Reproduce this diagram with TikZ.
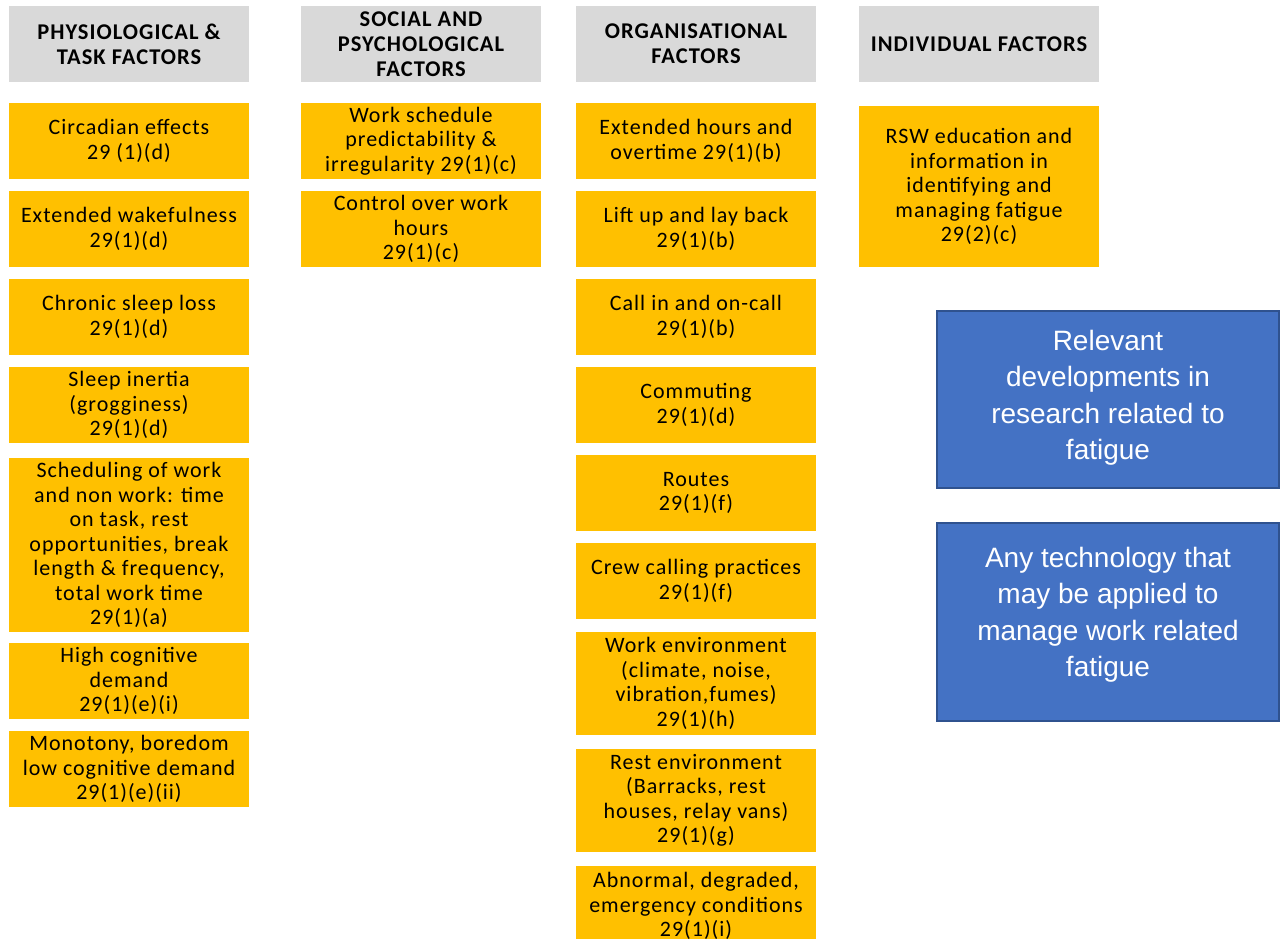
\documentclass[tikz,border=0pt]{standalone}
\usepackage{fontspec}
\setmainfont[LetterSpace=4.5]{Carlito}
\newfontfamily\arialf{Liberation Sans}
\definecolor{ora}{HTML}{FFC000}
\definecolor{hdr}{HTML}{D9D9D9}
\definecolor{blu}{HTML}{4472C4}
\definecolor{bluedge}{HTML}{2F528F}
\tikzset{
  basebox/.style={minimum width=240pt, inner sep=0pt, align=center, text=black,
    font=\fontsize{22}{24.5}\selectfont},
  hdrbox/.style={basebox, fill=hdr, minimum height=76pt,
    font=\fontsize{22.5}{25}\selectfont\bfseries},
  obox/.style={basebox, fill=ora},
  bbox/.style={fill=blu, draw=bluedge, line width=2pt, minimum width=342pt, inner sep=0pt},
  btext/.style={text=white, align=center, inner sep=0pt,
    font=\arialf\fontsize{28}{36.5}\selectfont}
}
\begin{document}
\begin{tikzpicture}[x=1pt,y=-1pt]
\fill[white] (0,0) rectangle (1283,939);
\useasboundingbox (0,0) rectangle (1283,939);
% headers
\node[hdrbox] (h1) at (129,44) {PHYSIOLOGICAL \&\\TASK FACTORS};
\node[hdrbox] (h2) at (421,44) {SOCIAL AND\\PSYCHOLOGICAL\\FACTORS};
\node[hdrbox] (h3) at (696,44) {ORGANISATIONAL\\FACTORS};
\node[hdrbox] (h4) at (979,44) {INDIVIDUAL FACTORS};
% column 1
\node[obox, minimum height=76pt] (p1) at (129,141) {Circadian effects\\29 (1)(d)};
\node[obox, minimum height=76pt] (p2) at (129,229) {Extended wakefulness\\29(1)(d)};
\node[obox, minimum height=76pt] (p3) at (129,317) {Chronic sleep loss\\29(1)(d)};
\node[obox, minimum height=76pt] (p4) at (129,405) {Sleep inertia\\(grogginess)\\29(1)(d)};
\node[obox, minimum height=174pt] (p5) at (129,545) {Scheduling of work\\and non work: time\\on task, rest\\opportunities, break\\length \& frequency,\\total work time\\29(1)(a)};
\node[obox, minimum height=76pt] (p6) at (129,681) {High cognitive\\demand\\29(1)(e)(i)};
\node[obox, minimum height=76pt] (p7) at (129,769) {Monotony, boredom\\low cognitive demand\\29(1)(e)(ii)};
% column 2
\node[obox, minimum height=76pt] (s1) at (421,141) {Work schedule\\predictability \&\\irregularity 29(1)(c)};
\node[obox, minimum height=76pt] (s2) at (421,229) {Control over work\\hours\\29(1)(c)};
% column 3
\node[obox, minimum height=76pt] (o1) at (696,141) {Extended hours and\\overtime 29(1)(b)};
\node[obox, minimum height=76pt] (o2) at (696,229) {Lift up and lay back\\29(1)(b)};
\node[obox, minimum height=76pt] (o3) at (696,317) {Call in and on-call\\29(1)(b)};
\node[obox, minimum height=76pt] (o4) at (696,405) {Commuting\\29(1)(d)};
\node[obox, minimum height=76pt] (o5) at (696,493) {Routes\\29(1)(f)};
\node[obox, minimum height=76pt] (o6) at (696,581) {Crew calling practices\\29(1)(f)};
\node[obox, minimum height=103pt] (o7) at (696,683.5) {Work environment\\(climate, noise,\\vibration,fumes)\\29(1)(h)};
\node[obox, minimum height=103pt] (o8) at (696,800.5) {Rest environment\\(Barracks, rest\\houses, relay vans)\\29(1)(g)};
\node[obox, minimum height=80pt] (o9) at (696,906) {Abnormal, degraded,\\emergency conditions\\29(1)(i)};
% column 4
\node[obox, minimum height=161pt] (i1) at (979,186.5) {RSW education and\\information in\\identifying and\\managing fatigue\\29(2)(c)};
% blue boxes
\node[bbox, minimum height=177pt] (b1) at (1108,399.5) {};
\node[btext] (b1t) at (1108,398) {Relevant\\developments in\\research related to\\fatigue};
\node[bbox, minimum height=198pt] (b2) at (1108,622) {};
\node[btext] (b2t) at (1108,615) {Any technology that\\may be applied to\\manage work related\\fatigue};
\end{tikzpicture}
\end{document}
